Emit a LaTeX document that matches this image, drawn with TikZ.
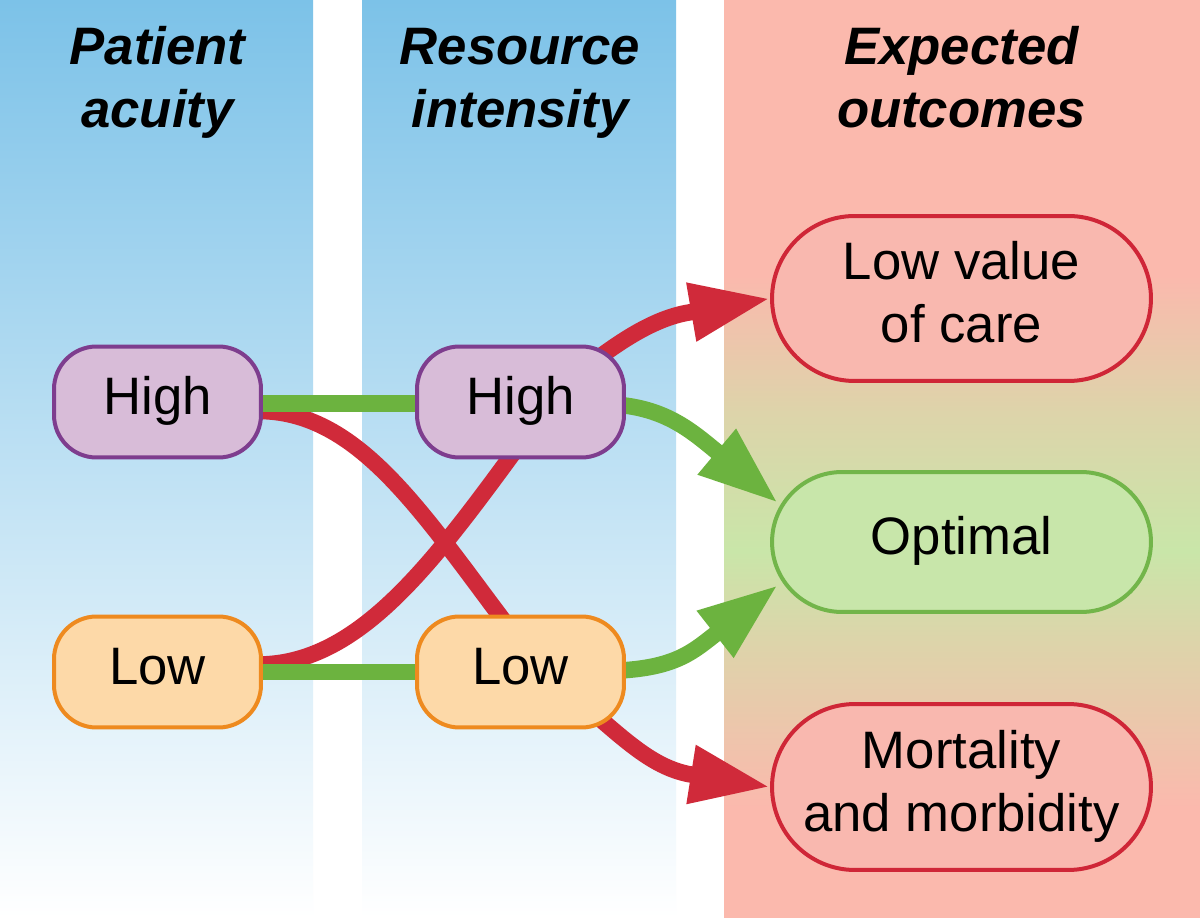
\documentclass[tikz,border=0pt]{standalone}
\usepackage{fontspec}
\setmainfont{Liberation Sans}
\usetikzlibrary{arrows.meta,shapes.misc,calc}
\definecolor{bluetop}{HTML}{7CC2E8}
\definecolor{purpF}{HTML}{D8BCD8}
\definecolor{purpB}{HTML}{7E3D8E}
\definecolor{orF}{HTML}{FDD9A8}
\definecolor{orB}{HTML}{EE8A1F}
\definecolor{redF}{HTML}{F9B8AF}
\definecolor{redB}{HTML}{CF2637}
\definecolor{grF}{HTML}{C8E6AA}
\definecolor{grB}{HTML}{72B54A}
\definecolor{grL}{HTML}{6CB33F}
\definecolor{rdL}{HTML}{D02A3A}
\definecolor{pk}{HTML}{FBB9AD}
\definecolor{tn}{HTML}{DDD4AA}
\definecolor{gn}{HTML}{C9E6A9}
\pgfdeclareverticalshading{outbg}{100bp}{color(0bp)=(pk); color(25bp)=(pk); color(31bp)=(pk); color(40bp)=(tn); color(45bp)=(gn); color(52.5bp)=(tn); color(60bp)=(pk); color(100bp)=(pk)}
\pgfdeclarelayer{bg}
\pgfdeclarelayer{lines}
\pgfsetlayers{bg,lines,main}
\tikzset{
  hdr/.style={font=\fontsize{30}{36}\selectfont\bfseries\itshape, align=center, inner sep=0pt},
  lvl/.style={rectangle, rounded corners=0.85cm, line width=0.08cm, minimum width=4.14cm, minimum height=2.22cm, inner sep=0pt, font=\fontsize{30}{36}\selectfont, align=center},
  hi/.style={lvl, draw=purpB, fill=purpF},
  lo/.style={lvl, draw=orB, fill=orF},
  outc/.style={rounded rectangle, line width=0.08cm, minimum width=7.58cm, inner sep=0pt, font=\fontsize{30}{36}\selectfont, align=center},
  bad/.style={outc, draw=redB, fill=redF},
  good/.style={outc, draw=grB, fill=grF},
  link/.style={line width=0.33cm},
  tip/.style={-{Triangle[length=1.6cm,width=1.1cm]}}
}
\begin{document}
\begin{tikzpicture}[x=0.02cm,y=-0.02cm]
\useasboundingbox (0,0) rectangle (1200,918);
\begin{pgfonlayer}{bg}
\fill[white] (0,0) rectangle (1200,918);
\shade[top color=bluetop, bottom color=white] (0,0) rectangle (313,918);
\shade[top color=bluetop, bottom color=white] (362,0) rectangle (676,918);
\shade[shading=outbg] (724,0) rectangle (1200,918);
\end{pgfonlayer}

\node[hdr] (h1) at (157.5,83) {\strut Patient\\\strut acuity};
\node[hdr] (h2) at (520,83) {\strut Resource\\\strut intensity};
\node[hdr] (h3) at (961.5,83) {\strut Expected\\\strut outcomes};

\node[hi] (lh) at (157.5,402) {\strut High};
\node[lo] (ll) at (157.5,672) {\strut Low};
\node[hi] (mh) at (520.5,402) {\strut High};
\node[lo] (ml) at (520.5,672) {\strut Low};
\node[bad, minimum height=3.3cm] (lv) at (961.5,298.5) {\strut Low value\\\strut of care};
\node[good, minimum height=2.8cm] (opt) at (961.5,542) {\strut Optimal};
\node[bad, minimum height=3.32cm] (mort) at (961.5,787) {\strut Mortality\\\strut and morbidity};

\begin{pgfonlayer}{lines}
% crossing red curves
\draw[link, rdL] ($(lh.east)+(-5,9)$) .. controls ($(lh.east)+(92,9)$) and ($(ml.north)+(-104,-110)$) .. ($(ml.north)+(-17,6)$);
\draw[link, rdL] ($(ll.east)+(-5,-7.5)$) .. controls ($(ll.east)+(92,-7.5)$) and ($(mh.south)+(-93.5,111.5)$) .. ($(mh.south)+(-7.5,-6)$);
% straight green links
\draw[link, grL] ($(lh.east)+(-5,1.5)$) -- ($(mh.west)+(5,1.5)$);
\draw[link, grL] ($(ll.east)+(-5,0)$) -- ($(ml.west)+(5,0)$);
% arrows to outcomes
\draw[link, rdL, tip] ($(mh.center)+(64.5,-34)$) .. controls ($(mh.center)+(94.5,-57)$) and ($(lv.west)+(-120,21.5)$) .. ($(lv.west)+(-84,14.5)$) -- (lv.west);
\draw[link, grL, tip] ($(mh.center)+(79.5,2)$) .. controls ($(mh.center)+(139.5,2)$) and ($(opt.center)+(-273.5,-114)$) .. ($(opt.center)+(-245.5,-91)$) -- ($(opt.center)+(-183.5,-39)$);
\draw[link, grL, tip] ($(ml.center)+(79.5,-1)$) .. controls ($(ml.center)+(149.5,-1)$) and ($(opt.center)+(-271.5,112)$) .. ($(opt.center)+(-248.5,94)$) -- ($(opt.center)+(-183.5,43)$);
\draw[link, rdL, tip] ($(ml.center)+(69.5,38)$) .. controls ($(ml.center)+(109.5,73)$) and ($(mort.west)+(-115,-20)$) .. ($(mort.west)+(-82,-13)$) -- (mort.west);
\end{pgfonlayer}
\end{tikzpicture}
\end{document}
